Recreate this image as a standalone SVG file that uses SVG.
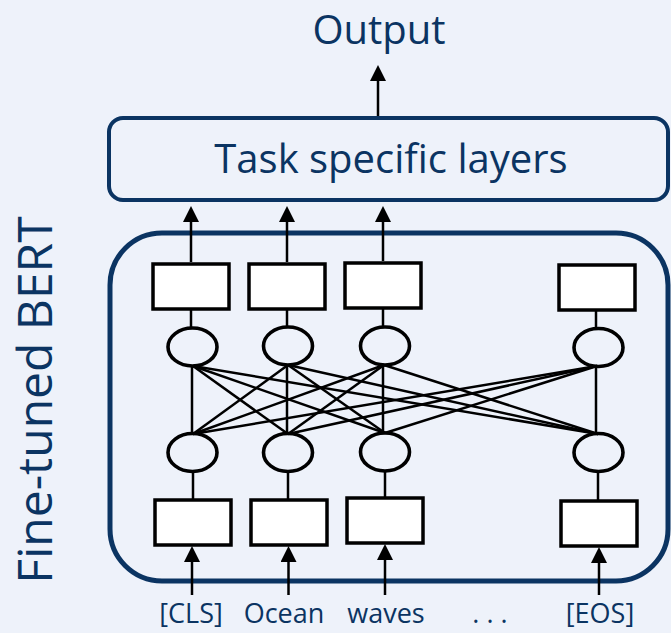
<svg xmlns="http://www.w3.org/2000/svg" width="671" height="633" viewBox="0 0 671 633">
  <style>
    .lbl { font-family: "Open Sans", "Noto Sans", sans-serif; fill: #0b3462; }
    .frame { fill: none; stroke: #0b3462; }
    .cell { fill: #ffffff; stroke: #000000; stroke-width: 3.5; }
    .unit { fill: none; stroke: #000000; stroke-width: 3.6; }
    .wire { stroke: #000000; stroke-width: 2.5; fill: none; }
    .arrow { stroke: #000000; stroke-width: 2.5; fill: none; marker-end: url(#head); }
  </style>
  <defs>
    <marker id="head" viewBox="0 0 16 16" markerWidth="16" markerHeight="16" refX="0" refY="8" orient="auto" markerUnits="userSpaceOnUse">
      <path d="M0,0 L16,8 L0,16 z" fill="#000000"/>
    </marker>
  </defs>

  <!-- backdrop -->
  <rect x="0" y="0" width="671" height="633" fill="#eef2fa"/>

  <!-- output label -->
  <g id="output">
    <text class="lbl" x="379" y="44" font-size="40" text-anchor="middle">Output</text>
  </g>

  <!-- task specific head -->
  <g id="task-layers">
    <rect class="frame" x="109" y="118" width="559" height="82" rx="14" stroke-width="4"/>
    <text class="lbl" x="391" y="173" font-size="40" text-anchor="middle">Task specific layers</text>
  </g>

  <!-- fine-tuned encoder frame -->
  <g id="bert">
    <rect class="frame" x="110" y="233" width="558" height="348" rx="52" stroke-width="5"/>
    <text class="lbl" transform="translate(52 400) rotate(-90)" x="0" y="0" font-size="48" text-anchor="middle">Fine-tuned BERT</text>
  </g>

  <!-- output token cells -->
  <g id="out-cls"><rect class="cell" x="153" y="264" width="76" height="45"/></g>
  <g id="out-ocean"><rect class="cell" x="249" y="264" width="76" height="45"/></g>
  <g id="out-waves"><rect class="cell" x="345" y="263" width="76" height="45"/></g>
  <g id="out-eos"><rect class="cell" x="559" y="265" width="76" height="45"/></g>

  <!-- upper attention units -->
  <g id="hid-top-1"><ellipse class="unit" cx="192.5" cy="347" rx="24.5" ry="19"/></g>
  <g id="hid-top-2"><ellipse class="unit" cx="288" cy="346" rx="24.5" ry="19"/></g>
  <g id="hid-top-3"><ellipse class="unit" cx="385" cy="346" rx="24.5" ry="19"/></g>
  <g id="hid-top-4"><ellipse class="unit" cx="598.5" cy="347.5" rx="24.5" ry="19"/></g>

  <!-- lower attention units -->
  <g id="hid-bot-1"><ellipse class="unit" cx="192.5" cy="452.5" rx="24.5" ry="19"/></g>
  <g id="hid-bot-2"><ellipse class="unit" cx="288" cy="452.5" rx="24.5" ry="19"/></g>
  <g id="hid-bot-3"><ellipse class="unit" cx="385" cy="452" rx="24.5" ry="19"/></g>
  <g id="hid-bot-4"><ellipse class="unit" cx="598.5" cy="452.5" rx="24.5" ry="19"/></g>

  <!-- input token cells -->
  <g id="in-cls"><rect class="cell" x="155" y="500" width="76" height="45"/></g>
  <g id="in-ocean"><rect class="cell" x="251" y="500" width="76" height="45"/></g>
  <g id="in-waves"><rect class="cell" x="347" y="498" width="76" height="45"/></g>
  <g id="in-eos"><rect class="cell" x="561" y="501" width="76" height="45"/></g>

  <!-- input tokens -->
  <g id="tokens">
    <text class="lbl" x="191" y="623" font-size="27" text-anchor="middle">[CLS]</text>
    <text class="lbl" x="284" y="623" font-size="27" text-anchor="middle">Ocean</text>
    <text class="lbl" x="386" y="623" font-size="27" text-anchor="middle">waves</text>
    <text class="lbl" x="490" y="623" font-size="27" text-anchor="middle">. . .</text>
    <text class="lbl" x="600" y="623" font-size="27" text-anchor="middle">[EOS]</text>
  </g>

  <!-- connectors -->
  <g id="connectors">
    <!-- head to output -->
    <line class="arrow" x1="378" y1="116" x2="378" y2="81"/>
    <!-- encoder outputs to head -->
    <line class="arrow" x1="191" y1="262" x2="191" y2="222"/>
    <line class="arrow" x1="287" y1="262" x2="287" y2="222"/>
    <line class="arrow" x1="383" y1="261" x2="383" y2="222"/>
    <!-- output cells to upper units -->
    <line class="wire" x1="191" y1="309" x2="191" y2="328"/>
    <line class="wire" x1="287" y1="309" x2="287" y2="327"/>
    <line class="wire" x1="383" y1="308" x2="383" y2="327"/>
    <line class="wire" x1="596" y1="310" x2="596" y2="328"/>
    <!-- all-to-all attention between layers -->
    <line class="wire" x1="192" y1="366" x2="192" y2="433"/>
    <line class="wire" x1="193" y1="366" x2="288" y2="434"/>
    <line class="wire" x1="193" y1="366" x2="385" y2="433"/>
    <line class="wire" x1="193" y1="366" x2="598" y2="434"/>
    <line class="wire" x1="287" y1="365" x2="287" y2="434"/>
    <line class="wire" x1="288" y1="365" x2="193" y2="434"/>
    <line class="wire" x1="288" y1="365" x2="385" y2="433"/>
    <line class="wire" x1="288" y1="365" x2="598" y2="434"/>
    <line class="wire" x1="383" y1="365" x2="383" y2="433"/>
    <line class="wire" x1="384" y1="365" x2="193" y2="434"/>
    <line class="wire" x1="384" y1="365" x2="288" y2="434"/>
    <line class="wire" x1="384" y1="365" x2="598" y2="434"/>
    <line class="wire" x1="596" y1="366" x2="596" y2="434"/>
    <line class="wire" x1="597" y1="366" x2="193" y2="434"/>
    <line class="wire" x1="597" y1="366" x2="288" y2="434"/>
    <line class="wire" x1="597" y1="366" x2="385" y2="433"/>
    <!-- lower units to input cells -->
    <line class="wire" x1="193" y1="471" x2="193" y2="500"/>
    <line class="wire" x1="288" y1="471" x2="288" y2="500"/>
    <line class="wire" x1="385" y1="471" x2="385" y2="498"/>
    <line class="wire" x1="598" y1="471" x2="598" y2="501"/>
    <!-- tokens into input cells -->
    <line class="arrow" x1="192" y1="595" x2="192" y2="562"/>
    <line class="arrow" x1="288.5" y1="595" x2="288.5" y2="562"/>
    <line class="arrow" x1="385" y1="595" x2="385" y2="560"/>
    <line class="arrow" x1="599" y1="595" x2="599" y2="563"/>
  </g>
</svg>
